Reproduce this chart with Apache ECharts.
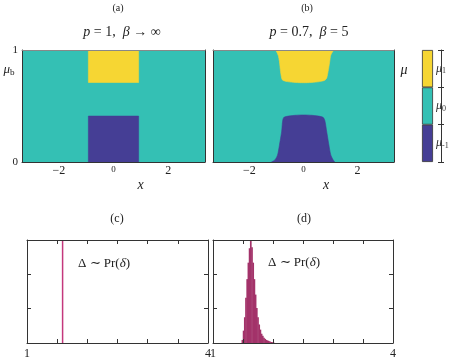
<!DOCTYPE html>
<html>
<head>
<meta charset="utf-8">
<script src="https://cdn.jsdelivr.net/npm/echarts@6/dist/echarts.min.js"></script>
<style>html,body{margin:0;padding:0;background:#fff}#main{width:450px;height:361px}</style>
</head>
<body>
<div id="main"></div>
<script>
// phase colours (mu_-1, mu_0, mu_1) and colorbar label subscripts
const phaseColors = ['#453e95', '#34c0b4', '#f6d633'];
const phaseSubs = ['-1', '0', '1'];

// panel (a): sharp boundaries, [x, mu_b]
const yellowA = [[-0.92, 1], [-0.92, 0.71], [0.92, 0.71], [0.92, 1]];
const purpleA = [[-0.92, 0], [-0.92, 0.41], [0.92, 0.41], [0.92, 0]];

// panel (b): smoothed boundaries, [x, mu_b]
const yellowB = [[-1.03, 1.0], [-0.94, 0.955], [-0.89, 0.895], [-0.85, 0.807], [-0.81, 0.75], [-0.77, 0.73],
  [-0.6, 0.718], [-0.3, 0.71], [0, 0.708], [0.3, 0.71], [0.6, 0.718], [0.79, 0.73], [0.86, 0.75],
  [0.91, 0.807], [0.97, 0.895], [1.01, 0.955], [1.12, 1.0]];
const purpleB = [[-1.19, 0], [-1.06, 0.018], [-0.96, 0.063], [-0.89, 0.152], [-0.81, 0.27], [-0.77, 0.37],
  [-0.72, 0.4], [-0.4, 0.415], [0, 0.42], [0.4, 0.415], [0.72, 0.4], [0.79, 0.37], [0.86, 0.27],
  [0.94, 0.152], [1.01, 0.063], [1.10, 0.018], [1.16, 0]];

const xTicksTop = [-2, 0, 2];
const yTicksTop = [0, 1];

// histogram (c): all mass in a single bin
const deltaC = [1.59];
const countsC = [1];

// histogram (d)
const deltaD = [1.49, 1.51, 1.53, 1.55, 1.57, 1.59, 1.61, 1.63, 1.65, 1.67, 1.69, 1.71, 1.73, 1.75,
  1.77, 1.79, 1.81, 1.83, 1.85, 1.87, 1.89, 1.91, 1.93, 1.95, 1.97, 1.99, 2.01];
const countsD = [0.03, 0.12, 0.25, 0.44, 0.62, 0.78, 0.92, 0.99, 0.93, 0.78, 0.62, 0.47, 0.34, 0.25,
  0.18, 0.13, 0.09, 0.07, 0.05, 0.04, 0.03, 0.025, 0.02, 0.015, 0.01, 0.008, 0.005];
const deltaTicks = [1, 4];

const serif = 'Liberation Serif';
const frameColor = '#333';

var myChart = echarts.init(document.getElementById('main'));

const grids = [
  { left: 22, top: 50, width: 183, height: 112, show: true, backgroundColor: phaseColors[1], borderWidth: 0 }, // (a)
  { left: 213, top: 50, width: 181, height: 112, show: true, backgroundColor: phaseColors[1], borderWidth: 0 }, // (b)
  { left: 422, top: 50, width: 11, height: 112 },   // colorbar
  { left: 27, top: 240, width: 181, height: 103 },  // (c)
  { left: 213, top: 240, width: 180, height: 103 }  // (d)
].map(g => Object.assign({ outerBoundsMode: 'none', containLabel: false }, g));

const xAxes = [];
const yAxes = [];

function lineOnly(o) {
  return Object.assign({
    type: 'value', z: 10,
    axisLine: { show: true, onZero: false, lineStyle: { color: frameColor, width: 1 } },
    axisTick: { show: false }, axisLabel: { show: false }, splitLine: { show: false }
  }, o);
}

function xFmt(v) {
  if (v === 0) return '{s|0}';
  return v < 0 ? '−' + (-v) : String(v);
}

// top panels: frame axes (x 0-3, y 0-3)
[0, 1].forEach((gi, k) => {
  xAxes.push(lineOnly({
    gridIndex: gi, min: -3.35, max: 3.35, position: 'bottom',
    name: 'x', nameLocation: 'middle', nameGap: 14,
    nameTextStyle: { fontFamily: serif, fontStyle: 'italic', fontSize: 14, color: '#222', padding: [0, 0, 0, k === 0 ? 54 : 45] },
    axisLabel: {
      show: true, customValues: xTicksTop, formatter: xFmt, margin: 3,
      fontFamily: serif, fontSize: 12, color: '#222', rich: { s: { fontSize: 9, fontFamily: serif, color: '#222' } }
    }
  }));
  xAxes.push(lineOnly({ gridIndex: gi, min: -3.35, max: 3.35, position: 'top', axisLine: { show: true, onZero: false, lineStyle: { color: '#888', width: 1 } } }));
  yAxes.push(lineOnly({
    gridIndex: gi, min: 0, max: 1, position: 'left',
    axisLabel: { show: k === 0, customValues: yTicksTop, margin: 4, fontFamily: serif, fontSize: 11, color: '#222' }
  }));
  yAxes.push(lineOnly({ gridIndex: gi, min: 0, max: 1, position: 'right' }));
});

// colorbar axes (x 4, y 4-6)
xAxes.push({ type: 'category', gridIndex: 2, data: ['c'], show: false });
yAxes.push({ type: 'value', gridIndex: 2, min: 0, max: 3, show: false });
yAxes.push({
  type: 'value', gridIndex: 2, min: 0, max: 3, interval: 1, position: 'right', offset: 8,
  axisLine: { show: true, lineStyle: { color: frameColor } },
  axisTick: { show: true, length: 3, lineStyle: { color: frameColor } },
  splitLine: { show: false },
  axisLabel: {
    show: true, customValues: [0.5, 1.5, 2.5], margin: -5,
    formatter: v => '{m|μ}{s|' + phaseSubs[Math.floor(v)] + '}',
    rich: {
      m: { fontFamily: serif, fontStyle: 'italic', fontSize: 12, color: '#333' },
      s: { fontFamily: serif, fontSize: 8, color: '#333', padding: [5, 0, 0, 0] }
    }
  }
});
yAxes.push({
  type: 'value', gridIndex: 2, min: 0, max: 3, interval: 1, position: 'right', offset: 8,
  axisLine: { show: false }, axisLabel: { show: false }, splitLine: { show: false },
  axisTick: { show: true, inside: true, length: 3, lineStyle: { color: frameColor } }
});

// bottom panels (x 5-8, y 7-10)
[3, 4].forEach(gi => {
  const tick = { show: true, inside: true, length: 4, lineStyle: { color: frameColor } };
  xAxes.push(lineOnly({
    gridIndex: gi, min: 1, max: 4, interval: 0.5, position: 'bottom', axisTick: tick,
    name: 'δ', nameLocation: 'middle', nameGap: 11,
    nameTextStyle: { fontFamily: serif, fontStyle: 'italic', fontSize: 12, color: '#222' },
    axisLabel: { show: true, customValues: deltaTicks, margin: 5, fontFamily: serif, fontSize: 12, color: '#222' }
  }));
  xAxes.push(lineOnly({ gridIndex: gi, min: 1, max: 4, interval: 0.5, position: 'top', axisTick: tick }));
  yAxes.push(lineOnly({ gridIndex: gi, min: 0, max: 1, interval: 1 / 3, position: 'left', axisTick: tick }));
  yAxes.push(lineOnly({ gridIndex: gi, min: 0, max: 1, interval: 1 / 3, position: 'right', axisTick: tick }));
});

function region(data, color, origin, xi, yi, smooth) {
  return {
    type: 'line', xAxisIndex: xi, yAxisIndex: yi, data: data, symbol: 'none', smooth: smooth || false,
    lineStyle: { width: 0.6, color: color }, areaStyle: { color: color, opacity: 1, origin: origin },
    silent: true, z: 2
  };
}

const series = [
  region(yellowA, phaseColors[2], 'end', 0, 0),
  region(purpleA, phaseColors[0], 'start', 0, 0),
  region(yellowB, phaseColors[2], 'end', 2, 2, 0.25),
  region(purpleB, phaseColors[0], 'start', 2, 2, 0.25)
];
phaseColors.forEach((c) => {
  series.push({
    type: 'bar', xAxisIndex: 4, yAxisIndex: 4, stack: 'cb', barWidth: '100%', data: [1],
    itemStyle: { color: c, borderColor: '#333', borderWidth: 0.8 }, silent: true
  });
});
series.push({
  type: 'bar', xAxisIndex: 5, yAxisIndex: 7, barWidth: 1.5,
  data: deltaC.map((d, i) => [d, countsC[i]]),
  itemStyle: { color: '#c4387c' }, silent: true
});
series.push({
  type: 'bar', xAxisIndex: 7, yAxisIndex: 9, barWidth: 1.7,
  data: deltaD.map((d, i) => [d, countsD[i]]),
  itemStyle: { color: '#a3336a' }, silent: true
});

function txt(text, x, y, size) {
  return {
    type: 'text', x: x, y: y, silent: true,
    style: {
      text: text, align: 'center', verticalAlign: 'middle', fill: '#222',
      fontFamily: serif, fontSize: size,
      rich: {
        i: { fontStyle: 'italic', fontFamily: serif, fontSize: size, fill: '#222' },
        sb: { fontFamily: serif, fontSize: size * 0.7, fill: '#222', padding: [6, 0, 0, 0] }
      }
    }
  };
}

const graphics = [
  txt('(a)', 118, 8, 10),
  txt('(b)', 307, 8, 10),
  txt('{i|p} = 1,  {i|β} → ∞', 122, 32, 14),
  txt('{i|p} = 0.7,  {i|β} = 5', 309, 32, 14),
  txt('{i|μ}{sb|b}', 9, 70, 13),
  txt('{i|μ}', 404, 70, 14),
  txt('(c)', 117, 219, 12),
  txt('(d)', 304, 219, 12),
  txt('Δ ∼ Pr({i|δ})', 104, 264, 13),
  txt('Δ ∼ Pr({i|δ})', 294, 263, 13)
];

myChart.setOption({
  animation: false,
  grid: grids,
  xAxis: xAxes,
  yAxis: yAxes,
  series: series,
  graphic: graphics
});
</script>
</body>
</html>
